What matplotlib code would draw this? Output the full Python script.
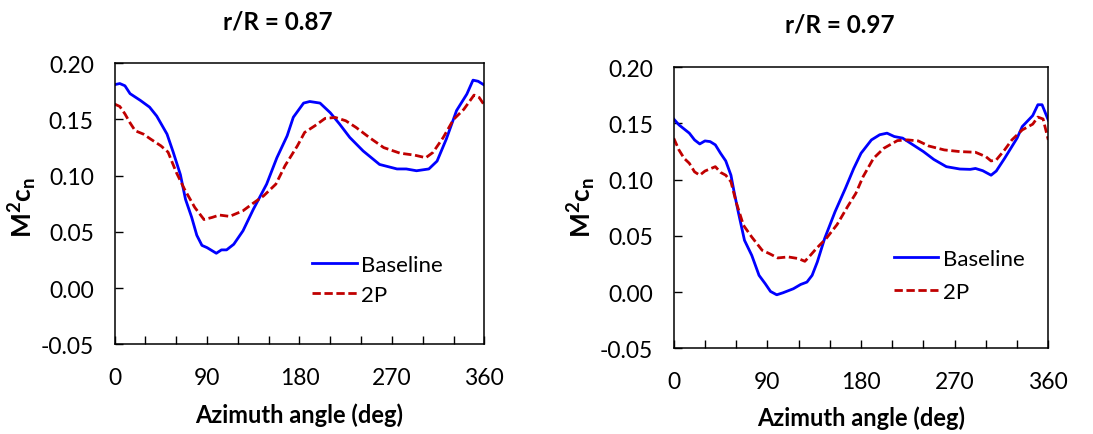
import numpy as np
import matplotlib.pyplot as plt

# --- data (azimuth deg, M^2 cn) ---
az_base_87 = [0, 5, 10, 15, 25, 34, 41, 51, 57, 64, 69, 75, 80, 85, 90, 99, 104, 109, 116,
              125, 135, 148, 158, 168, 174, 184, 190, 200, 210, 219, 229, 242, 258, 275,
              284, 294, 306, 314, 323, 333, 343, 349, 354, 360]
cn_base_87 = [0.181, 0.182, 0.180, 0.173, 0.167, 0.161, 0.153, 0.137, 0.121, 0.101, 0.079,
              0.063, 0.047, 0.038, 0.036, 0.031, 0.034, 0.034, 0.039, 0.051, 0.070, 0.0925,
              0.116, 0.1355, 0.152, 0.1646, 0.166, 0.1646, 0.156, 0.146, 0.134, 0.122, 0.110,
              0.106, 0.106, 0.1044, 0.106, 0.113, 0.1326, 0.158, 0.1726, 0.185, 0.184, 0.1806]

az_2p_87 = [0, 5, 10, 15, 20, 28, 35, 45, 52, 60, 68, 78, 87, 95, 102, 112, 125, 135, 145,
            157, 166, 178, 185, 195, 205, 215, 225, 235, 248, 262, 278, 292, 303, 310, 320,
            330, 340, 350, 355, 360]
cn_2p_87 = [0.1637, 0.1616, 0.155, 0.147, 0.140, 0.137, 0.1326, 0.1266, 0.121, 0.103, 0.088,
            0.0718, 0.061, 0.0629, 0.065, 0.0638, 0.0688, 0.0756, 0.082, 0.0925, 0.109,
            0.1266, 0.1385, 0.1444, 0.151, 0.1518, 0.1489, 0.143, 0.134, 0.125, 0.120,
            0.1183, 0.116, 0.1207, 0.134, 0.150, 0.159, 0.1717, 0.1696, 0.1628]

az_base_97 = [0, 5, 15, 20, 25, 30, 35, 40, 45, 50, 55, 58, 62, 68, 75, 82, 88, 93, 99, 105,
              115, 122, 128, 133, 138, 145, 155, 165, 173, 180, 190, 198, 205, 212, 220, 230,
              240, 250, 262, 275, 285, 290, 297, 305, 310, 318, 330, 335, 345, 350, 354, 360]
cn_base_97 = [0.154, 0.1488, 0.1414, 0.1354, 0.1318, 0.1345, 0.1339, 0.131, 0.1235, 0.1167,
              0.104, 0.0893, 0.0714, 0.0461, 0.0327, 0.0149, 0.0074, 0.0006, -0.0024, -0.0006,
              0.003, 0.0068, 0.0089, 0.0149, 0.0268, 0.0476, 0.0714, 0.0923, 0.110, 0.1235,
              0.1354, 0.140, 0.1414, 0.1384, 0.137, 0.131, 0.125, 0.118, 0.1116, 0.1095,
              0.1092, 0.110, 0.108, 0.104, 0.1077, 0.119, 0.137, 0.1473, 0.157, 0.1667,
              0.1667, 0.153]

az_2p_97 = [0, 5, 10, 15, 20, 25, 30, 40, 45, 50, 55, 60, 67, 75, 85, 92, 100, 110, 120, 126,
            130, 137, 147, 157, 167, 175, 182, 192, 202, 215, 225, 235, 245, 260, 275, 290,
            300, 305, 310, 318, 325, 335, 345, 350, 355, 360]
cn_2p_97 = [0.1369, 0.1265, 0.119, 0.1146, 0.107, 0.104, 0.1077, 0.1116, 0.1065, 0.104,
            0.0982, 0.080, 0.0595, 0.049, 0.0372, 0.0342, 0.0304, 0.0313, 0.0298, 0.0274,
            0.0313, 0.0387, 0.0482, 0.0601, 0.0759, 0.0878, 0.1027, 0.119, 0.128, 0.1348,
            0.1354, 0.1345, 0.130, 0.1265, 0.125, 0.1244, 0.1205, 0.1167, 0.1176, 0.1265,
            0.1354, 0.1443, 0.1494, 0.1557, 0.154, 0.1354]

titles = ["r/R = 0.87", "r/R = 0.97"]
series_labels = ["Baseline", "2P"]

plt.rcParams['font.family'] = ['Lato', 'DejaVu Sans']
plt.rcParams['mathtext.fontset'] = 'custom'
plt.rcParams['mathtext.rm'] = 'Lato'
plt.rcParams['mathtext.bf'] = 'Lato:bold'
plt.rcParams['mathtext.it'] = 'Lato:italic'

fig = plt.figure(figsize=(10.93, 4.35), dpi=100)

# axes boxes in figure fractions
boxes = [[0.1049, 0.2062, 0.3382, 0.646],
         [0.6164, 0.197, 0.3427, 0.646]]
legend_pos = [(0.535, 0.23), (0.588, 0.26)]
title_pos = [(278, 22), (840, 25)]
ylab_x = [23, 582]
xlab_y = [415, 418]

data = [(az_base_87, cn_base_87, az_2p_87, cn_2p_87),
        (az_base_97, cn_base_97, az_2p_97, cn_2p_97)]

for i in range(2):
    ax = fig.add_axes(boxes[i])
    ab, cb, a2, c2 = data[i]
    ax.plot(ab, cb, color='#0000FF', lw=2.0, label=series_labels[0])
    ax.plot(a2, c2, color='#C00000', lw=2.0, linestyle=(0, (3, 1.3)), label=series_labels[1])

    ax.set_xlim(0, 360)
    ax.set_ylim(-0.05, 0.20)
    ax.set_xticks(np.arange(0, 361, 90))
    ax.set_xticks(np.arange(0, 361, 30), minor=True)
    ax.set_yticks(np.arange(-0.05, 0.201, 0.05))
    ax.set_yticklabels(["%.2f" % v for v in np.arange(-0.05, 0.201, 0.05)])
    ax.tick_params(axis='x', which='both', direction='in', length=6, width=1,
                   labelsize=16.5, pad=16, top=False)
    ax.tick_params(axis='y', which='both', direction='in', length=6, width=1,
                   labelsize=16.5, pad=15, right=False)
    for s in ax.spines.values():
        s.set_linewidth(1.1)
        s.set_color('black')

    leg = ax.legend(loc='center left', bbox_to_anchor=legend_pos[i], frameon=False,
                    fontsize=16, handlelength=2.0, handletextpad=0.2,
                    labelspacing=0.45 + 0.15 * i, borderpad=0, borderaxespad=0)

    fig.text(title_pos[i][0] / 1093, 1 - title_pos[i][1] / 435, titles[i],
             ha='center', va='center', fontsize=17.5, fontweight='bold')
    fig.text(ylab_x[i] / 1093, 1 - 207 / 435, r"$\mathbf{M^2c_n}$",
             ha='center', va='center', rotation=90, fontsize=19)
    fig.text((boxes[i][0] + boxes[i][2] / 2), 1 - xlab_y[i] / 435, "Azimuth angle (deg)",
             ha='center', va='center', fontsize=17, fontweight='bold')

fig.savefig("out.png", dpi=100)
